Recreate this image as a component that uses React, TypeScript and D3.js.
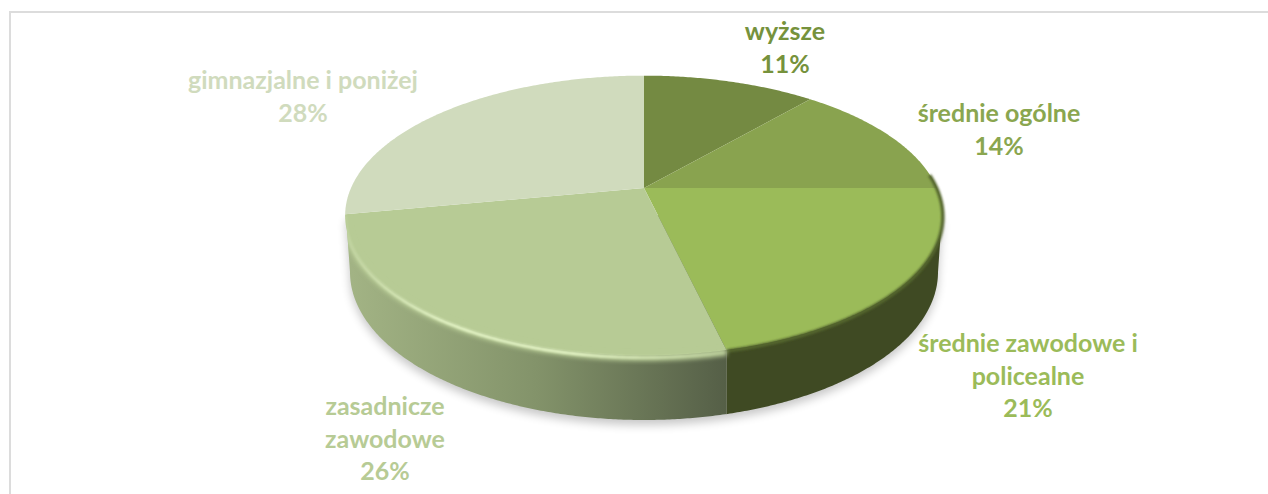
import React from "react";
import * as d3 from "d3";

const categories = ["wyższe", "średnie ogólne", "średnie zawodowe i policealne", "zasadnicze zawodowe", "gimnazjalne i poniżej"];
const values = [11.3, 13.7, 21.35, 25.65, 28];
const labelLines = [["wyższe", "11%"], ["średnie ogólne", "14%"], ["średnie zawodowe i", "policealne", "21%"], ["zasadnicze", "zawodowe", "26%"], ["gimnazjalne i poniżej", "28%"]];
const topColors = ["#748a42", "#89a34f", "#9bbb59", "#b7cb95", "#d0dbbd"];
const labelColors = ["#76923c", "#8aa64f", "#9bbb59", "#b7cb95", "#d0dbbd"];
const labelPos = [[785, 40], [999, 122], [1028, 352], [385, 415], [303, 89]];

const W = 1268, H = 494;
const hub = { x: 644, y: 188 };
const R = 293, S = 134.5, k = -0.197;
const project = (t: number): [number, number] => {
  const px = Math.sin(t), py = -Math.cos(t), w = 1 + k * py;
  return [hub.x + (R * px) / w, hub.y + (S * py) / w];
};
const arcPts = (a: number, b: number) => {
  const n = Math.max(2, Math.ceil(Math.abs(b - a) / 0.01));
  return d3.range(n + 1).map((i) => project(a + ((b - a) * i) / n));
};
const line = d3.line();
const arcs = d3.pie<number>().sort(null).startAngle(0).endAngle(2 * Math.PI)(values);

// underside ellipse of the disc
const base = { x: 644, y: 272, rx: 294, ry: 148 };
const basePts = d3.range(0, 361).map((i) => {
  const a = (Math.PI * i) / 360;
  return [base.x + base.rx * Math.cos(a), base.y + base.ry * Math.sin(a)] as [number, number];
});
const sidePts: [number, number][] = [[942, 215], ...basePts, [346, 215]];
const toRad = (d: number) => (d * Math.PI) / 180;

export default function App() {
  const split = project(arcs[2].endAngle);
  const rimEnd = arcs[3].endAngle;
  return (
    <svg width={W} height={H} style={{ position: "absolute", left: 0, top: 0, background: "#fff" }} fontFamily="Lato, sans-serif" fontWeight={700}>
      <defs>
        <linearGradient id="sideGrad" gradientUnits="userSpaceOnUse" x1={346} x2={split[0]} y1={0} y2={0}>
          <stop offset="0" stopColor="#a3b485" />
          <stop offset="0.5" stopColor="#83936a" />
          <stop offset="1" stopColor="#555f47" />
        </linearGradient>
        <linearGradient id="hiGrad" gradientUnits="userSpaceOnUse" x1={346} x2={split[0]} y1={0} y2={0}>
          <stop offset="0" stopColor="#e6f6c8" stopOpacity="0.25" />
          <stop offset="0.25" stopColor="#e6f6c8" stopOpacity="1" />
          <stop offset="0.6" stopColor="#e6f6c8" stopOpacity="1" />
          <stop offset="1" stopColor="#e6f6c8" stopOpacity="0.15" />
        </linearGradient>
        <filter id="sh" x="-10%" y="-10%" width="120%" height="130%"><feGaussianBlur stdDeviation="5" /></filter>
        <filter id="b1" x="-5%" y="-5%" width="110%" height="110%"><feGaussianBlur stdDeviation="0.9" /></filter>
        <filter id="b2" x="-5%" y="-5%" width="110%" height="110%"><feGaussianBlur stdDeviation="2" /></filter>
        <clipPath id="leftSide"><rect x={0} y={0} width={split[0]} height={H} /></clipPath>
        <clipPath id="rightSide"><rect x={split[0]} y={0} width={W - split[0]} height={H} /></clipPath>
        <clipPath id="discSide"><path d={line(sidePts)! + "Z"} /></clipPath>
      </defs>

      <rect x={9} y={11} width={W} height={2} fill="#dcdcdc" />
      <rect x={9} y={11} width={2} height={H} fill="#dcdcdc" />

      <path d={line(sidePts)! + "Z"} fill="#000" opacity={0.22} transform="translate(0,5)" filter="url(#sh)" />
      <path d={line(sidePts)! + "Z"} fill="#3f4a23" clipPath="url(#rightSide)" />
      <path d={line(sidePts)! + "Z"} fill="url(#sideGrad)" clipPath="url(#leftSide)" />

      {arcs.map((a, i) => (
        <path key={categories[i]} d={line([[hub.x, hub.y], ...arcPts(a.startAngle, a.endAngle)])! + "Z"} fill={topColors[i]} />
      ))}

      {/* bevel along the front rim */}
      <path d={line(arcPts(toRad(84), arcs[2].endAngle))!} fill="none" stroke="#55662e" strokeWidth={3.5} filter="url(#b1)" transform="translate(0,1)" />
      <g clipPath="url(#discSide)">
        <path d={line(arcPts(arcs[3].startAngle, rimEnd))!} fill="none" stroke="#b7cb95" strokeWidth={7} filter="url(#b2)" transform="translate(0,2)" />
        <path d={line(arcPts(arcs[3].startAngle, rimEnd))!} fill="none" stroke="url(#hiGrad)" strokeWidth={2.7} filter="url(#b1)" transform="translate(0,2)" />
      </g>

      {labelLines.map((lines, i) =>
        lines.map((t, j) => (
          <text key={i + "-" + j} x={labelPos[i][0]} y={labelPos[i][1] + j * 32.6} textAnchor="middle" fontSize={25} fill={labelColors[i]}>
            {t}
          </text>
        ))
      )}
    </svg>
  );
}
